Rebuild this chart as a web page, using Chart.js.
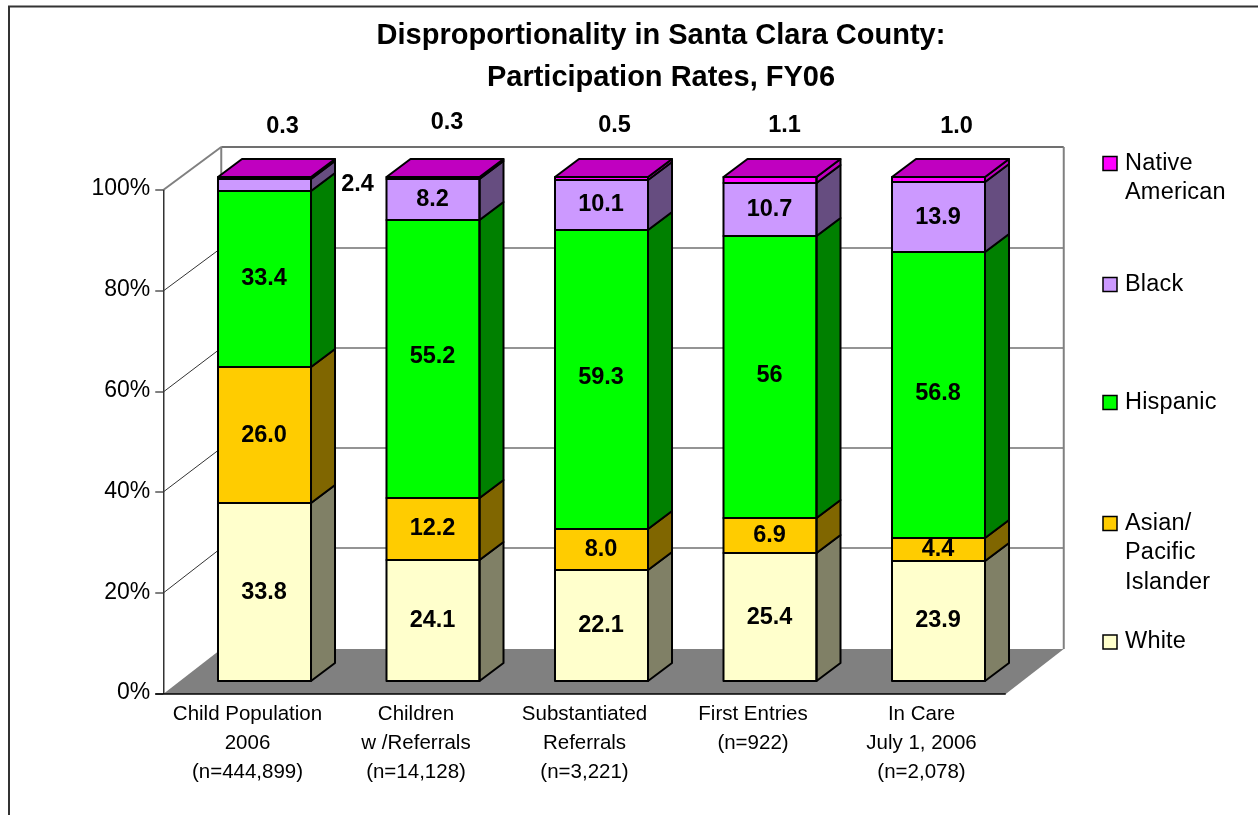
<!DOCTYPE html>
<html>
<head>
<meta charset="utf-8">
<style>html,body{margin:0;padding:0;background:#fff}canvas{display:block}</style>
<script src="https://cdn.jsdelivr.net/npm/chart.js@4"></script>
</head>
<body>
<canvas id="c" width="1258" height="815"></canvas>
<script>
const categories = [
  ['Child Population', '2006', '(n=444,899)'],
  ['Children', 'w /Referrals', '(n=14,128)'],
  ['Substantiated', 'Referrals', '(n=3,221)'],
  ['First Entries', '(n=922)'],
  ['In Care', 'July 1, 2006', '(n=2,078)']
];
const white = [33.8, 24.1, 22.1, 25.4, 23.9];
const asian = [26.0, 12.2, 8.0, 6.9, 4.4];
const hispanic = [33.4, 55.2, 59.3, 56, 56.8];
const black = [2.4, 8.2, 10.1, 10.7, 13.9];
const nativeAm = [0.3, 0.3, 0.5, 1.1, 1.0];
const whiteText = ['33.8', '24.1', '22.1', '25.4', '23.9'];
const asianText = ['26.0', '12.2', '8.0', '6.9', '4.4'];
const hispanicText = ['33.4', '55.2', '59.3', '56', '56.8'];
const blackText = ['2.4', '8.2', '10.1', '10.7', '13.9'];
const nativeText = ['0.3', '0.3', '0.5', '1.1', '1.0'];
const seriesNames = ['White', 'Asian/ Pacific Islander', 'Hispanic', 'Black', 'Native American'];
const yTicks = [0, 20, 40, 60, 80, 100];

const FONT = '"Liberation Sans", Arial, sans-serif';
const colors = ['#FFFFCC', '#FFCC00', '#00FF00', '#CC99FF', '#FF00FF'];
const sideColors = ['#808066', '#806600', '#008000', '#664D80', '#C000C0'];
const topColor = '#C000C0';
const DEPTH_X = 24, DEPTH_Y = 18;           // bar depth
const FRONT_DX = -17, FRONT_DY = 13;        // front plane of the box relative to the plot scale
const BACK_DX = 58;                         // box depth
const backDy = v => 45 - v / 100 * 2;

const allValues = [white, asian, hispanic, black, nativeAm];
const allText = [whiteText, asianText, hispanicText, blackText, nativeText];
const totals = categories.map((_, i) => allValues.reduce((s, a) => s + a[i], 0));
const toShare = a => a.map((v, i) => v / totals[i] * 100);

function poly(ctx, pts, fill, stroke, lw) {
  ctx.beginPath();
  pts.forEach((p, i) => i ? ctx.lineTo(p[0], p[1]) : ctx.moveTo(p[0], p[1]));
  ctx.closePath();
  if (fill) { ctx.fillStyle = fill; ctx.fill(); }
  if (stroke) { ctx.strokeStyle = stroke; ctx.lineWidth = lw; ctx.lineJoin = 'round'; ctx.stroke(); }
}
function line(ctx, x1, y1, x2, y2, c, w) {
  ctx.beginPath(); ctx.moveTo(x1, y1); ctx.lineTo(x2, y2);
  ctx.strokeStyle = c; ctx.lineWidth = w; ctx.stroke();
}

const box3d = {
  id: 'box3d',
  afterLayout(chart) {
    chart.titleBlock.left = 64;
    chart.titleBlock.right = 1258;
  },
  beforeDatasetsDraw(chart) {
    const ctx = chart.ctx, a = chart.chartArea, y = chart.scales.y;
    const fl = a.left + FRONT_DX, fr = a.right + FRONT_DX;
    const bl = fl + BACK_DX, br = fr + BACK_DX;
    const y0 = y.getPixelForValue(0) + FRONT_DY, y100 = y.getPixelForValue(100) + FRONT_DY;
    ctx.save();
    // outer frame of the slide object
    line(ctx, 9, 815, 9, 6.5, '#333', 2);
    line(ctx, 8, 6.5, 1258, 6.5, '#333', 2);
    // floor
    poly(ctx, [[fl, y0], [bl, y0 - backDy(0)], [br, y0 - backDy(0)], [fr, y0]], '#808080');
    // walls
    yTicks.forEach(v => {
      const p = Math.round(y.getPixelForValue(v) + FRONT_DY);
      const q = Math.round(p - backDy(v));
      if (v > 0) {
        line(ctx, bl, q, br, q, '#707070', v === 100 ? 2 : 1.5);
        line(ctx, fl, p, bl, q, v === 100 ? '#808080' : '#333', v === 100 ? 2 : 1);
      }
      line(ctx, fl - 8, p, fl, p, '#000', 1);
    });
    line(ctx, bl, y0 - backDy(0), bl, y100 - backDy(100), '#808080', 2);
    line(ctx, br, y0 - backDy(0), br, y100 - backDy(100), '#808080', 2);
    line(ctx, fl + .5, y0, fl + .5, y100, '#333', 1.5);
    line(ctx, fl - 8, y0, fr, y0, '#000', 1.5);
    ctx.restore();
  },
  afterDatasetsDraw(chart) {
    const ctx = chart.ctx;
    ctx.save();
    const metas = chart.data.datasets.map((_, i) => chart.getDatasetMeta(i));
    metas.forEach((m, di) => m.data.forEach(el => {
      const l = el.x - el.width / 2, r = el.x + el.width / 2;
      const t = Math.round(el.y), b = Math.round(el.base);
      poly(ctx, [[r, t], [r + DEPTH_X, t - DEPTH_Y], [r + DEPTH_X, b - DEPTH_Y], [r, b]], sideColors[di], '#000', 2);
      poly(ctx, [[l, t], [r, t], [r, b], [l, b]], null, '#000', 2);
    }));
    metas[metas.length - 1].data.forEach(el => {
      const l = el.x - el.width / 2, r = el.x + el.width / 2, t = Math.round(el.y);
      poly(ctx, [[l, t], [l + DEPTH_X, t - DEPTH_Y], [r + DEPTH_X, t - DEPTH_Y], [r, t]], topColor, '#000', 2);
    });
    ctx.restore();
  }
};

// label nudges for the segments that the original moved off centre
const nudgeNative = [[18, 127], [14, 123], [13, 126], [14.5, 126], [18, 127]];
const nudgeBlackFirst = 93;
const nudgeHispanicY = [0, -2, -2, -2, -2];

const valueLabels = {
  id: 'valueLabels',
  afterDraw(chart) {
    const ctx = chart.ctx;
    ctx.save();
    ctx.font = 'bold 23.5px ' + FONT;
    ctx.fillStyle = '#000';
    ctx.textAlign = 'center';
    ctx.textBaseline = 'middle';
    chart.data.datasets.forEach((ds, di) => {
      chart.getDatasetMeta(di).data.forEach((el, i) => {
        let x = el.x - 0.5, y = (el.y + el.base) / 2;
        if (di === 4) { x = el.x + nudgeNative[i][0]; y = nudgeNative[i][1]; }
        if (di === 3 && i === 0) { x = el.x + nudgeBlackFirst; }
        if (di === 2) { y += nudgeHispanicY[i]; }
        ctx.fillText(allText[di][i], x, y);
      });
    });
    ctx.restore();
  }
};

const legendRows = [
  { series: 4, lines: ['Native', 'American'], ys: [164, 193], box: 163.5 },
  { series: 3, lines: ['Black'], ys: [285], box: 284.5 },
  { series: 2, lines: ['Hispanic'], ys: [403], box: 402.5 },
  { series: 1, lines: ['Asian/', 'Pacific', 'Islander'], ys: [524, 553, 583], box: 523.5 },
  { series: 0, lines: ['White'], ys: [642], box: 642 }
];
const sideLegend = {
  id: 'sideLegend',
  afterDraw(chart) {
    const ctx = chart.ctx;
    ctx.save();
    ctx.font = '23.5px ' + FONT;
    ctx.textAlign = 'left';
    ctx.textBaseline = 'middle';
    if ('letterSpacing' in ctx) ctx.letterSpacing = '0.2px';
    legendRows.forEach(r => {
      ctx.fillStyle = colors[r.series];
      ctx.strokeStyle = '#000';
      ctx.lineWidth = 1.5;
      ctx.fillRect(1103, r.box - 7, 14, 14);
      ctx.strokeRect(1103, r.box - 7, 14, 14);
      ctx.fillStyle = '#000';
      r.lines.forEach((t, i) => ctx.fillText(t, 1125, r.ys[i]));
    });
    ctx.restore();
  }
};

new Chart(document.getElementById('c'), {
  type: 'bar',
  data: {
    labels: categories,
    datasets: allValues.map((vals, i) => ({
      label: seriesNames[i],
      data: toShare(vals),
      backgroundColor: colors[i],
      borderWidth: 0,
      barPercentage: 0.552,
      categoryPercentage: 1,
      clip: false
    }))
  },
  options: {
    responsive: false,
    animation: false,
    events: [],
    layout: { autoPadding: false, padding: { left: 0, right: 235.25, top: 0, bottom: 0 } },
    scales: {
      x: {
        stacked: true,
        grid: { display: false, drawTicks: false },
        border: { display: false },
        afterFit(s) { s.height = 134; },
        ticks: {
          color: '#000', autoSkip: false, maxRotation: 0, minRotation: 0,
          padding: 18.5, labelOffset: -17,
          font: { family: FONT, size: 20.5, lineHeight: 29 / 20.5 }
        }
      },
      y: {
        stacked: true, min: 0, max: 100,
        grid: { display: false, drawTicks: false },
        border: { display: false },
        afterFit(s) { s.width = 180.25; },
        afterBuildTicks(s) { s.ticks = yTicks.map(v => ({ value: v })); },
        ticks: {
          color: '#000', padding: 30, labelOffset: 12,
          font: { family: FONT, size: 23 },
          callback: v => v + '%'
        }
      }
    },
    plugins: {
      legend: { display: false },
      tooltip: { enabled: false },
      title: {
        display: true,
        text: ['Disproportionality in Santa Clara County:', 'Participation Rates, FY06'],
        color: '#000',
        font: { family: FONT, size: 29, weight: 'bold', lineHeight: 42 / 29 },
        padding: { top: 15, bottom: 78 }
      }
    }
  },
  plugins: [box3d, valueLabels, sideLegend]
});
</script>
</body>
</html>
